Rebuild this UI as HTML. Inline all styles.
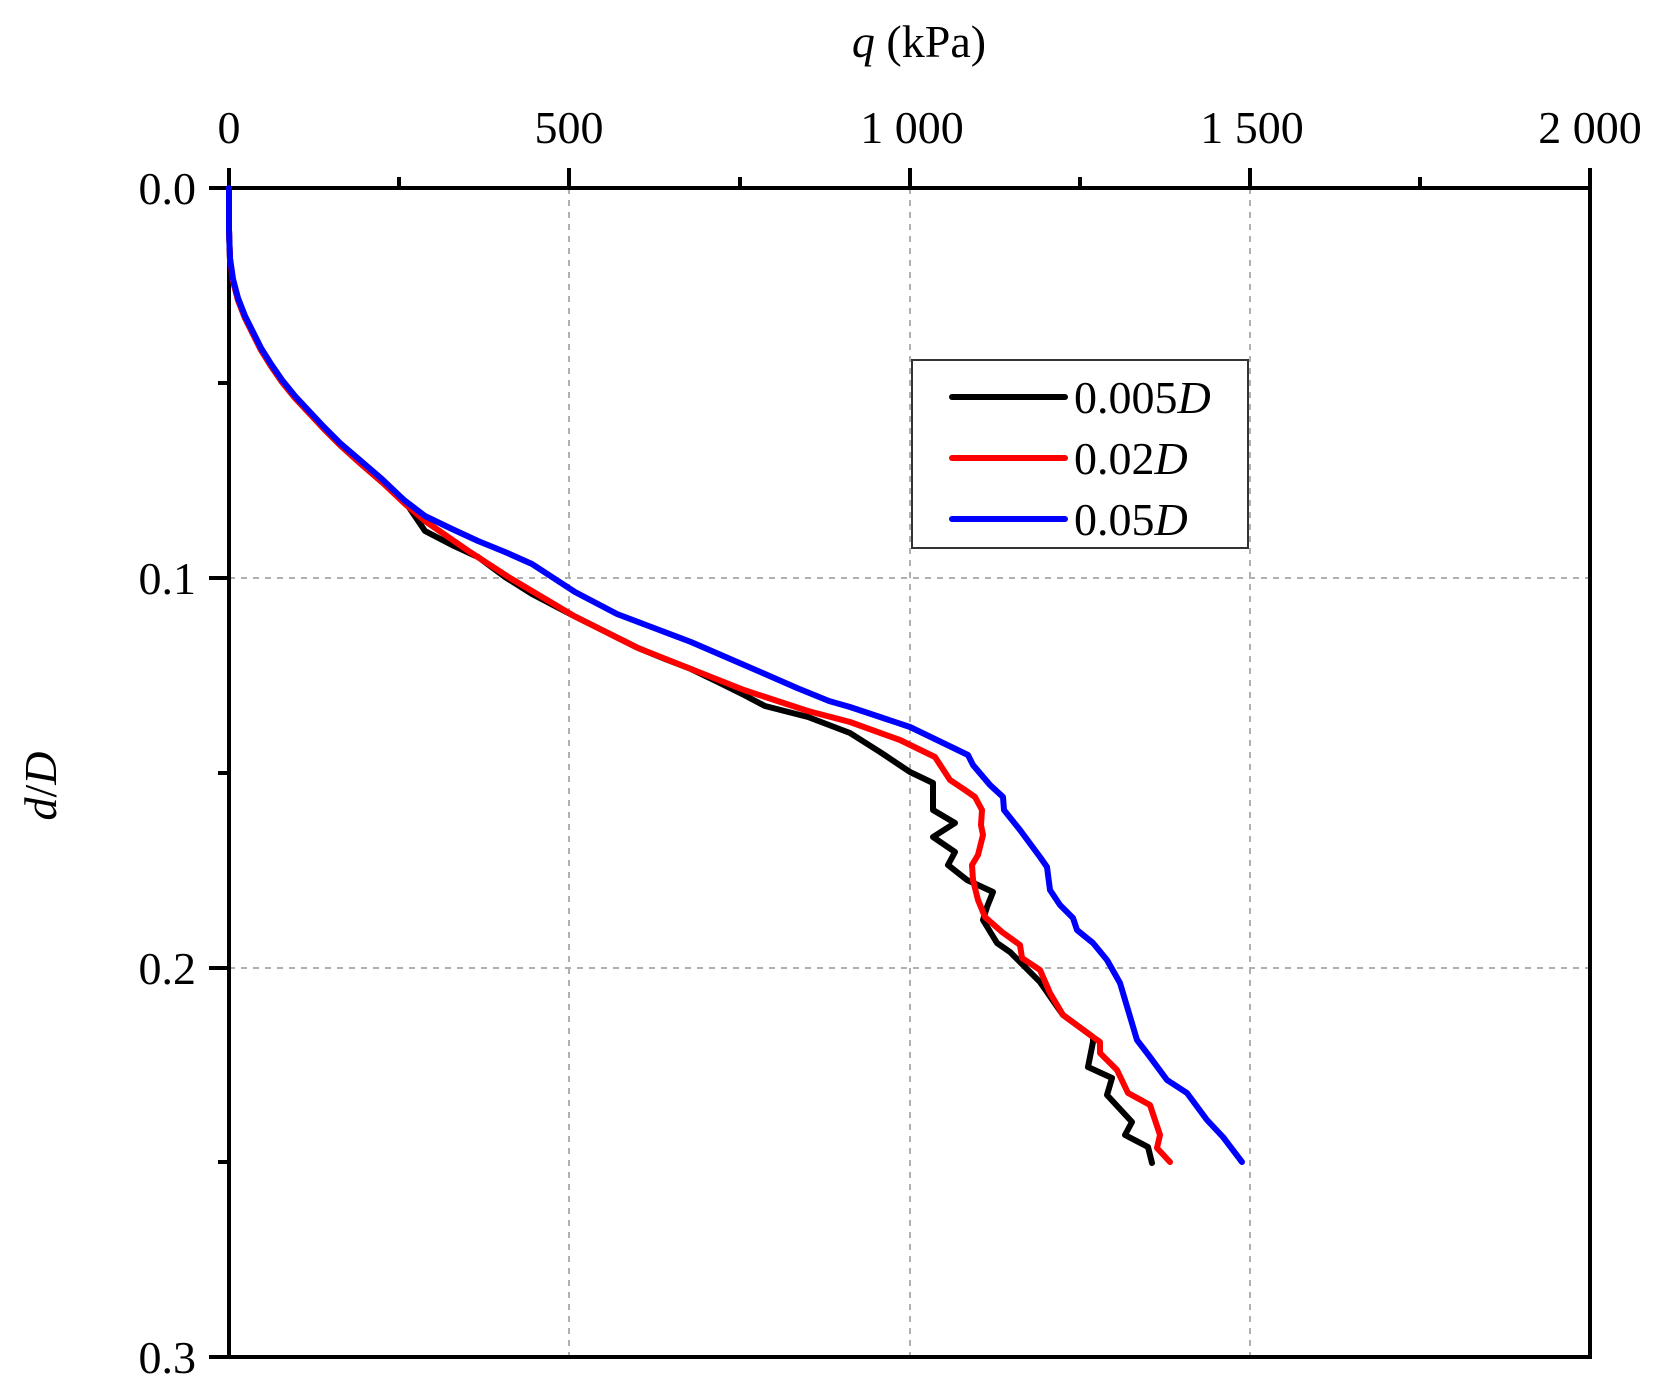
<!DOCTYPE html>
<html><head><meta charset="utf-8"><style>
html,body{margin:0;padding:0;background:#fff;}
svg{display:block;font-family:"Liberation Serif",serif;}
</style></head><body>
<svg width="1666" height="1397" viewBox="0 0 1666 1397" xmlns="http://www.w3.org/2000/svg">
<rect width="1666" height="1397" fill="#fff"/>
<g stroke="#b0b0b0" stroke-width="2" stroke-dasharray="6,6" fill="none">
<line x1="569" y1="188" x2="569" y2="1357"/>
<line x1="910" y1="188" x2="910" y2="1357"/>
<line x1="1250" y1="188" x2="1250" y2="1357"/>
<line x1="229" y1="578" x2="1590" y2="578"/>
<line x1="229" y1="968" x2="1590" y2="968"/>
</g>
<rect x="229" y="188" width="1361" height="1169" fill="none" stroke="#000" stroke-width="4"/>
<g stroke="#000" stroke-width="4">
<line x1="229" y1="168" x2="229" y2="188"/>
<line x1="569" y1="168" x2="569" y2="188"/>
<line x1="910" y1="168" x2="910" y2="188"/>
<line x1="1250" y1="168" x2="1250" y2="188"/>
<line x1="1590" y1="168" x2="1590" y2="188"/>
<line x1="399" y1="177" x2="399" y2="188"/>
<line x1="740" y1="177" x2="740" y2="188"/>
<line x1="1080" y1="177" x2="1080" y2="188"/>
<line x1="1420" y1="177" x2="1420" y2="188"/>
<line x1="209" y1="188" x2="229" y2="188"/>
<line x1="209" y1="578" x2="229" y2="578"/>
<line x1="209" y1="968" x2="229" y2="968"/>
<line x1="209" y1="1357" x2="229" y2="1357"/>
<line x1="218" y1="383" x2="229" y2="383"/>
<line x1="218" y1="773" x2="229" y2="773"/>
<line x1="218" y1="1162" x2="229" y2="1162"/>
</g>
<g font-size="46" fill="#000" text-anchor="middle">
<text x="229" y="143">0</text>
<text x="569" y="143">500</text>
<text x="912" y="143">1 000</text>
<text x="1252" y="143">1 500</text>
<text x="1590" y="143">2 000</text>
</g>
<g font-size="46" fill="#000" text-anchor="end">
<text x="196" y="204">0.0</text>
<text x="196" y="594">0.1</text>
<text x="196" y="984">0.2</text>
<text x="196" y="1373">0.3</text>
</g>
<text x="919" y="57" font-size="46" text-anchor="middle"><tspan font-style="italic">q</tspan> (kPa)</text>
<text transform="translate(56,786) rotate(-90)" font-size="46" text-anchor="middle"><tspan font-style="italic">d</tspan>/<tspan font-style="italic">D</tspan></text>
<g fill="none" stroke-width="6" stroke-linejoin="round" stroke-linecap="round">
<polyline stroke="#000" points="229,188 229,230 230,260 233,281 238,300 245,318 253,334 261,350 271,366 282,382 295,398 309,413 324,429 340,445 361,464 383,483 404,500 425,531 452,545 478,557 505,577 532,594 553,605 574,616 606,632 638,648 665,659 691,669 718,682 744,695 765,706 808,717 850,733 880,752 910,772 933,783 933,810 955,823 933,837 955,852 948,865 967,880 993,892 987,907 983,920 997,943 1010,952 1023,965 1040,982 1063,1015 1093,1037 1093,1042 1088,1067 1112,1078 1107,1095 1132,1122 1125,1135 1148,1147 1152,1163"/>
<polyline stroke="#ff0000" points="229,188 229,230 230,260 233,281 238,300 245,318 253,334 261,350 271,366 282,382 295,398 309,413 324,429 340,445 361,464 383,483 404,503 425,521 467,550 510,578 542,597 574,616 606,632 638,648 691,669 744,690 808,711 850,722 900,740 935,757 950,780 965,790 975,797 982,810 981,825 983,835 978,855 972,865 973,880 978,900 985,917 1002,932 1020,945 1022,958 1040,970 1050,993 1063,1015 1093,1037 1100,1042 1100,1053 1117,1070 1128,1093 1150,1105 1160,1135 1157,1148 1170,1162"/>
<polyline stroke="#0000ff" points="229,188 229,230 230,258 233,279 238,298 245,316 253,332 261,348 271,364 282,380 295,396 309,411 324,427 340,443 361,461 383,480 404,500 425,516 452,529 478,541 505,552 532,564 575,592 617,614 654,628 691,642 728,658 765,674 797,688 829,701 850,707 910,727 968,755 973,765 990,785 1003,797 1004,810 1020,830 1040,857 1047,867 1050,890 1060,905 1073,918 1077,930 1093,943 1107,960 1120,983 1137,1040 1150,1057 1167,1080 1187,1093 1207,1120 1223,1137 1242,1162"/>
</g>
<rect x="912" y="360" width="336" height="188" fill="#fff" stroke="#333" stroke-width="2"/>
<g stroke-width="6" stroke-linecap="round">
<line x1="952" y1="397" x2="1065" y2="397" stroke="#000"/>
<line x1="952" y1="458" x2="1065" y2="458" stroke="#ff0000"/>
<line x1="952" y1="519" x2="1065" y2="519" stroke="#0000ff"/>
</g>
<g font-size="46" fill="#000">
<text x="1074" y="413">0.005<tspan font-style="italic">D</tspan></text>
<text x="1074" y="474">0.02<tspan font-style="italic">D</tspan></text>
<text x="1074" y="535">0.05<tspan font-style="italic">D</tspan></text>
</g>
</svg>
</body></html>
